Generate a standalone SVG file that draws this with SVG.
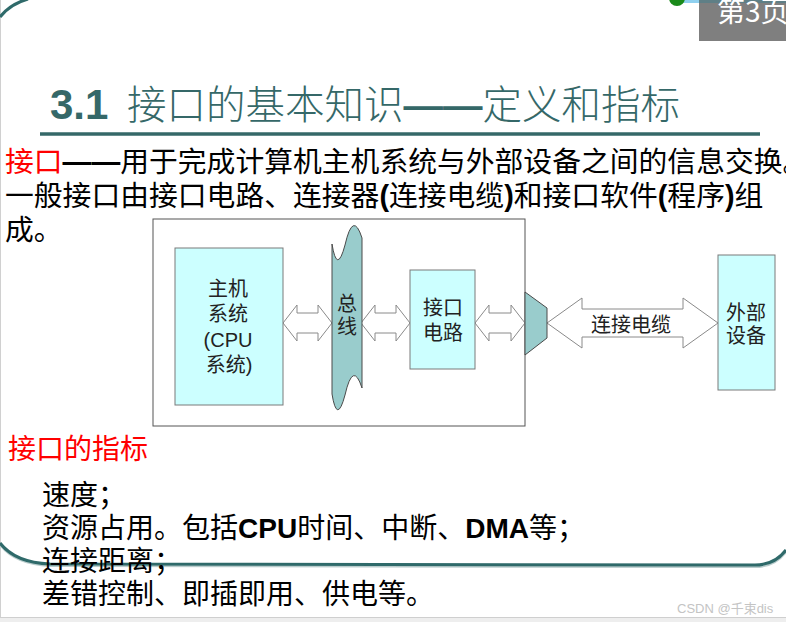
<svg xmlns="http://www.w3.org/2000/svg" width="786" height="622" viewBox="0 0 786 622">
<style>
.cjk{font-family:'Noto Sans CJK SC',sans-serif;}
.lat{font-family:'Liberation Sans','Noto Sans CJK SC',sans-serif;}
.body{font-size:28.8px;fill:#000;}
.list{font-size:28px;fill:#000;}
.lbl{font-size:20px;fill:#222;text-anchor:middle;}
.box{fill:#CCFFFF;stroke:#7a7a7a;stroke-width:1;}
.teal{fill:#99CCCC;stroke:#4a4a4a;stroke-width:1;}
.arrow{fill:#fff;stroke:#8a8a8a;stroke-width:1;}
.frame{fill:none;stroke:#2F6A6A;stroke-width:3;}
</style>
<rect width="786" height="622" fill="#fff"/>
<line x1="0.5" y1="0" x2="0.5" y2="617" stroke="#d0d0d0" stroke-width="1"/>
<rect x="0" y="617" width="786" height="5" fill="#eeeeee"/>
<line x1="0" y1="617.5" x2="786" y2="617.5" stroke="#cfcfcf"/>
<!-- slide frame -->
<path class="frame" d="M0,17 Q10,4 28,-1"/>
<path d="M0,545 C10,558 25,565 50,566 L755,567 C770,567 780,560 786,552" fill="none" stroke="#b9cccc" stroke-width="2"/>
<path class="frame" d="M0,543 C10,556 25,563 50,564 L755,565 C770,565 780,558 786,550"/>
<!-- page tag -->
<rect x="678" y="0" width="108" height="3" fill="#8fd0ef"/>
<rect x="763" y="0" width="23" height="3" fill="#3d6f7a"/>
<circle cx="677" cy="-2" r="8" fill="#1a8a1a"/>
<rect x="699" y="3" width="87" height="38" fill="#7f7f7f"/>
<rect x="699" y="0" width="87" height="3" fill="#5f7f86"/>
<text x="717" y="22" class="cjk" font-size="28" fill="#fff">第3页</text>
<!-- title -->
<g id="title">
<text x="50" y="119" class="lat" font-size="42" font-weight="bold" fill="#356868">3.1</text>
<text x="127" y="119" class="cjk" font-size="39.5" font-weight="300" fill="#356868">接口的基本知识<tspan class="lat" font-weight="bold">——</tspan>定义和指标</text>
<line x1="40" y1="134" x2="760" y2="134" stroke="#356868" stroke-width="3.5"/>
</g>
<!-- definition text -->
<g id="definition">
<text x="5" y="172" class="cjk body"><tspan fill="#ff0000">接口</tspan><tspan class="lat" font-weight="bold">——</tspan>用于完成计算机主机系统与外部设备之间的信息交换。</text>
<text x="5" y="206" class="cjk body">一般接口由接口电路、连接器<tspan class="lat" font-weight="bold">(</tspan>连接电缆<tspan class="lat" font-weight="bold">)</tspan>和接口软件<tspan class="lat" font-weight="bold">(</tspan>程序<tspan class="lat" font-weight="bold">)</tspan>组</text>
<text x="5" y="240" class="cjk body">成。</text>
</g>
<!-- diagram -->
<g id="outer"><rect x="153" y="219" width="372" height="207" fill="#fff" stroke="#555" stroke-width="1"/></g>
<g id="connectors">
<path class="arrow" d="M283,323 L297,305 L297,313 L318,313 L318,305 L332,323 L318,341 L318,333 L297,333 L297,341 Z"/>
<path class="arrow" d="M361,323 L375,305 L375,313 L396,313 L396,305 L410,323 L396,341 L396,333 L375,333 L375,341 Z"/>
<path class="arrow" d="M475,323 L489,305 L489,313 L511,313 L511,305 L525,323 L511,341 L511,333 L489,333 L489,341 Z"/>
<path class="arrow" d="M547,323 L582,298 L582,309 L683,309 L683,298 L718,323 L683,348 L683,337 L582,337 L582,348 Z"/>
<text x="631" y="332" class="cjk lbl" font-size="21">连接电缆</text>
</g>
<g id="host">
<rect class="box" x="175" y="248" width="108" height="157"/>
<text x="228" y="296" class="cjk lbl">主机</text>
<text x="228" y="321" class="cjk lbl">系统</text>
<text x="228" y="347" class="lat lbl">(CPU</text>
<text x="229" y="372" class="cjk lbl">系统<tspan class="lat">)</tspan></text>
</g>
<g id="bus">
<path class="teal" d="M332,244 Q337,275 345,245 Q353,210 362,238 L362,388 Q353,360 345,395 Q337,425 332,394 Z"/>
<text x="347" y="311" class="cjk lbl" font-size="17">总</text>
<text x="347" y="334" class="cjk lbl" font-size="17">线</text>
</g>
<g id="ifcircuit">
<rect class="box" x="410" y="270" width="65" height="99"/>
<text x="443" y="315" class="cjk lbl">接口</text>
<text x="443" y="340" class="cjk lbl">电路</text>
</g>
<g id="connector">
<path class="teal" d="M525,292 L547,308 L547,338 L525,355 Z"/>
</g>
<g id="device">
<rect class="box" x="718" y="255" width="57" height="135"/>
<text x="746" y="320" class="cjk lbl" font-size="18">外部</text>
<text x="746" y="343" class="cjk lbl" font-size="18">设备</text>
</g>
<!-- metrics -->
<g id="metrics">
<text x="8" y="459" class="cjk" font-size="28" fill="#ff0000">接口的指标</text>
<text x="42" y="505" class="cjk list">速度；</text>
<text x="42" y="538" class="cjk list">资源占用。包括<tspan class="lat" font-weight="bold">CPU</tspan>时间、中断、<tspan class="lat" font-weight="bold">DMA</tspan>等；</text>
<text x="42" y="571" class="cjk list">连接距离；</text>
<text x="42" y="604" class="cjk list">差错控制、即插即用、供电等。</text>
</g>
<text x="677" y="613" class="lat" font-size="13" fill="#c4c4c4">CSDN @千束dis</text>
</svg>
